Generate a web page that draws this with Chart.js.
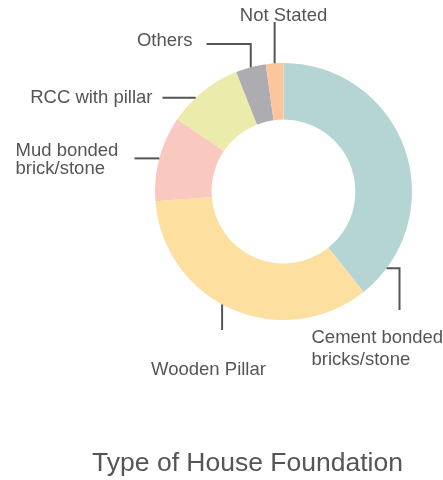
<!DOCTYPE html>
<html>
<head>
<meta charset="utf-8">
<script src="https://cdn.jsdelivr.net/npm/chart.js@4.4.1/dist/chart.umd.min.js"></script>
<style>
  body { margin: 0; background: #fff; }
  #wrap { position: relative; width: 443px; height: 480px; }
</style>
</head>
<body>
<div id="wrap"><canvas id="foundationChart"></canvas></div>
<script>
const categories = ['Cement bonded bricks/stone', 'Wooden Pillar', 'Mud bonded brick/stone', 'RCC with pillar', 'Others', 'Not Stated']
const shares = [39.3, 34.5, 10.7, 9.5, 3.8, 2.2]
const labelLines = [['Cement bonded', 'bricks/stone'], ['Wooden Pillar'], ['Mud bonded', 'brick/stone'], ['RCC with pillar'], ['Others'], ['Not Stated']]
const sliceColors = ['#b5d4d4', '#fddfa0', '#f9c8bf', '#ebebab', '#adadb1', '#fdc59b']
const chartTitle = 'Type of House Foundation'

// where each leader line leaves its slice (fraction of the arc) and how it runs,
// offsets measured from the ring centre
const calloutLayout = [
    { at: 0.895, path: [['h', 116], ['v', 118.5]], text: [28, 151, 'left'], gap: 22 },
    { at: 0.54, path: [['v', 138.5]], text: [-75, 183.5, 'center'], gap: 20 },
    { at: 0.5, path: [['h', -149]], text: [-268, -36, 'left'], gap: 18.5 },
    { at: 0.37, path: [['h', -121]], text: [-131, -88.5, 'right'], gap: 20 },
    { at: 0.5, path: [['v', -147.5], ['h', -77]], text: [-91, -146, 'right'], gap: 20 },
    { at: 0.5, path: [['v', -169.5]], text: [0, -171, 'center'], gap: 20 }
]

const calloutPlugin = {
    id: 'callouts',
    afterDatasetsDraw(chart) {
        const ctx = chart.ctx
        const arcs = chart.getDatasetMeta(0).data
        let cx = 0, cy = 0
        ctx.save()
        ctx.strokeStyle = '#555'
        ctx.fillStyle = '#555'
        ctx.lineWidth = 2
        ctx.font = '18.5px "Liberation Sans", Arial, sans-serif'
        ctx.textBaseline = 'alphabetic'
        arcs.forEach((arc, i) => {
            const p = arc.getProps(['x', 'y', 'startAngle', 'endAngle', 'outerRadius'], true)
            const cfg = calloutLayout[i]
            cx = p.x
            cy = p.y
            const a = p.startAngle + (p.endAngle - p.startAngle) * cfg.at
            let px = p.x + Math.cos(a) * p.outerRadius
            let py = p.y + Math.sin(a) * p.outerRadius
            ctx.beginPath()
            ctx.moveTo(px, py)
            cfg.path.forEach(([dir, v]) => {
                if (dir === 'h') px = p.x + v
                else py = p.y + v
                ctx.lineTo(px, py)
            })
            ctx.stroke()
            ctx.textAlign = cfg.text[2]
            labelLines[i].forEach((line, k) => {
                ctx.fillText(line, p.x + cfg.text[0], p.y + cfg.text[1] + k * cfg.gap)
            })
        })
        // title sits below the ring, a little left of its centre
        ctx.font = '26.5px "Liberation Sans", Arial, sans-serif'
        ctx.textAlign = 'center'
        ctx.fillText(chartTitle, cx - 36, cy + 279)
        ctx.restore()
    }
}

const foundationChart = new Chart(document.getElementById('foundationChart'), {
    type: 'doughnut',
    data: {
        labels: categories,
        datasets: [{
            data: shares,
            backgroundColor: sliceColors,
            borderWidth: 0,
            hoverOffset: 0
        }]
    },
    options: {
        responsive: true,
        maintainAspectRatio: false,
        animation: false,
        cutout: '56%',
        layout: {
            padding: { left: 155, right: 31, top: 63, bottom: 160 }
        },
        plugins: {
            legend: { display: false },
            tooltip: { enabled: false },
            title: { display: false }
        }
    },
    plugins: [calloutPlugin]
})
</script>
</body>
</html>
